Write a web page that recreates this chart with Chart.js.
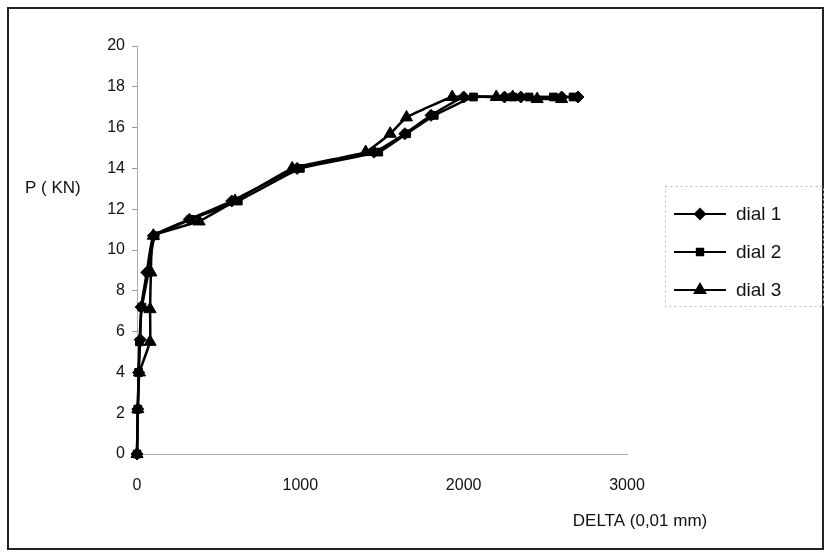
<!DOCTYPE html>
<html>
<head>
<meta charset="utf-8">
<script src="https://cdn.jsdelivr.net/npm/chart.js@4.4.1/dist/chart.umd.min.js"></script>
<style>
    html, body { margin: 0; padding: 0; background: #fff; }
    #wrap { position: relative; width: 827px; height: 554px; }
    #frame {
        position: absolute; left: 7px; top: 7px; width: 817px; height: 543px;
        border: 2px solid #222; box-sizing: border-box;
    }
    canvas { position: absolute; left: 0; top: 0; }
</style>
</head>
<body>
<div id="wrap">
    <div id="frame"></div>
    <canvas id="loadChart" width="827" height="554"></canvas>
</div>
<script>
const seriesNames = ["dial 1", "dial 2", "dial 3"];

const dial1X = [0, 5, 10, 20, 25, 60, 100, 320, 580, 980, 1450, 1640, 1800, 2000, 2250, 2350, 2600, 2700];
const dial1Y = [0, 2.2, 4.0, 5.6, 7.2, 8.9, 10.7, 11.5, 12.4, 14.0, 14.8, 15.7, 16.6, 17.5, 17.5, 17.5, 17.5, 17.5];

const dial2X = [0, 5, 10, 15, 30, 70, 110, 330, 620, 1000, 1480, 1650, 1820, 2060, 2300, 2400, 2550, 2670];
const dial2Y = [0, 2.2, 4.0, 5.5, 7.2, 8.9, 10.7, 11.5, 12.4, 14.0, 14.8, 15.7, 16.6, 17.5, 17.5, 17.5, 17.5, 17.5];

const dial3X = [0, 5, 15, 80, 80, 85, 100, 380, 600, 950, 1400, 1550, 1650, 1930, 2200, 2300, 2450, 2600];
const dial3Y = [0, 2.2, 4.0, 5.5, 7.1, 8.9, 10.7, 11.4, 12.4, 14.0, 14.8, 15.7, 16.5, 17.5, 17.5, 17.5, 17.4, 17.4];

const markerStyles = ["rectRot", "rect", "triangle"];
const markerSizes = [6, 5.5, 7];

const yTitle = "P ( KN)";
const xTitle = "DELTA (0,01 mm)";

function toPoints(xs, ys) {
    return xs.map((x, i) => ({ x: x, y: ys[i] }));
}

const allX = [dial1X, dial2X, dial3X];
const allY = [dial1Y, dial2Y, dial3Y];

const datasets = seriesNames.map((name, i) => ({
    label: name,
    data: toPoints(allX[i], allY[i]),
    borderColor: "#000",
    backgroundColor: "#000",
    borderWidth: 2.5,
    pointStyle: markerStyles[i],
    pointRadius: markerSizes[i],
    pointBackgroundColor: "#000",
    pointBorderColor: "#000",
    pointBorderWidth: 1,
    tension: 0.1,
    showLine: true,
    fill: false,
    clip: false
}));

const fontFamily = "'Liberation Sans', Arial, sans-serif";

// titles and legend drawn by hand, positions follow the old Excel layout
const extrasPlugin = {
    id: "extras",
    afterDraw(chart) {
        const ctx = chart.ctx;
        ctx.save();
        ctx.fillStyle = "#111";
        ctx.textBaseline = "middle";

        ctx.font = "17px " + fontFamily;
        ctx.textAlign = "left";
        ctx.fillText(yTitle, 25, 188);
        ctx.textAlign = "center";
        ctx.fillText(xTitle, 640, 521);

        // legend box
        ctx.strokeStyle = "#bbb";
        ctx.lineWidth = 1;
        ctx.setLineDash([2, 3]);
        ctx.strokeRect(665.5, 186.5, 158, 120);
        ctx.setLineDash([]);

        ctx.font = "19px " + fontFamily;
        ctx.textAlign = "left";
        seriesNames.forEach((name, i) => {
            const y = 214 + i * 38;
            ctx.strokeStyle = "#000";
            ctx.lineWidth = 2;
            ctx.beginPath();
            ctx.moveTo(674, y);
            ctx.lineTo(726, y);
            ctx.stroke();
            ctx.fillStyle = "#000";
            Chart.helpers.drawPoint(ctx, {
                pointStyle: markerStyles[i],
                radius: markerSizes[i] - 1,
                rotation: 0,
                borderWidth: 1
            }, 700, y);
            ctx.fillStyle = "#111";
            ctx.fillText(name, 736, y + 1);
        });
        ctx.restore();
    }
};

new Chart(document.getElementById("loadChart"), {
    type: "scatter",
    data: { datasets: datasets },
    options: {
        responsive: false,
        animation: false,
        layout: { padding: { left: 0, top: 46, right: 200, bottom: 0 } },
        plugins: {
            legend: { display: false },
            tooltip: { enabled: false }
        },
        scales: {
            x: {
                type: "linear",
                min: 0,
                max: 3000,
                afterFit: function(scale) { scale.height = 100; },
                ticks: {
                    stepSize: 1000,
                    color: "#111",
                    padding: 22,
                    font: { family: fontFamily, size: 16 },
                    maxRotation: 0,
                    callback: function(value) { return String(value); }
                },
                grid: { drawOnChartArea: false, drawTicks: false },
                border: { color: "#aaa", width: 1, dash: [3, 3] }
            },
            y: {
                min: 0,
                max: 20,
                afterFit: function(scale) { scale.width = 137; },
                ticks: {
                    stepSize: 2,
                    color: "#111",
                    padding: 7,
                    font: { family: fontFamily, size: 16 }
                },
                grid: { drawOnChartArea: false, drawTicks: true, tickLength: 5, color: "#999" },
                border: { color: "#aaa", width: 1, dash: [2, 3] }
            }
        }
    },
    plugins: [extrasPlugin]
});
</script>
</body>
</html>
